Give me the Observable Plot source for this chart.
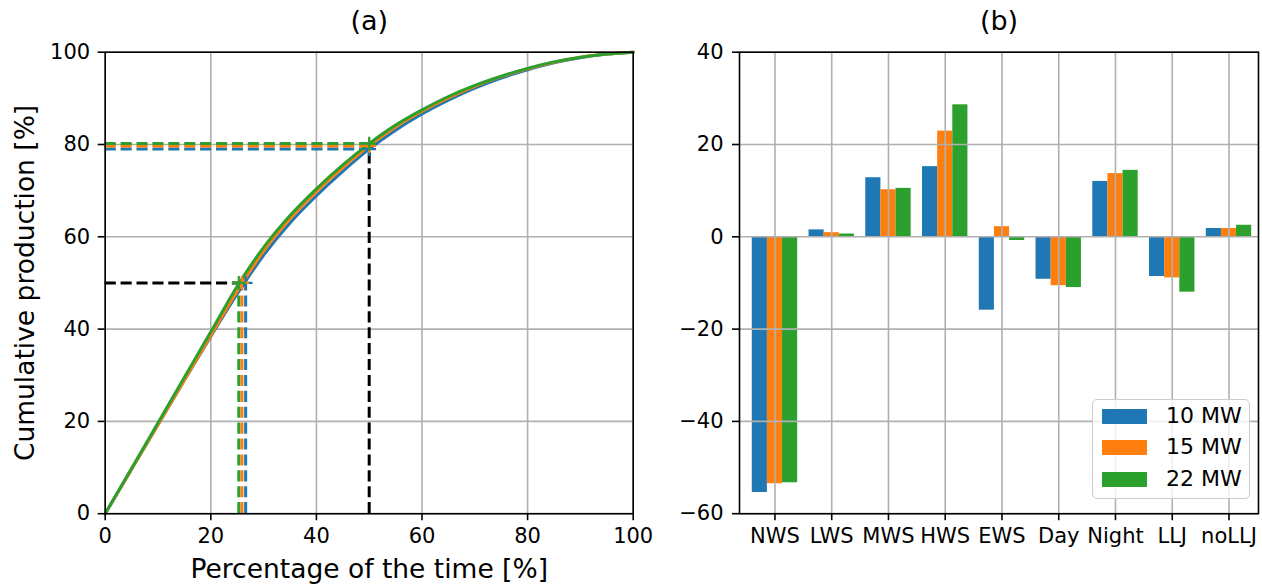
<!DOCTYPE html>
<html>
<head>
<meta charset="utf-8">
<script src="https://cdn.jsdelivr.net/npm/d3@7"></script>
<script src="https://cdn.jsdelivr.net/npm/@observablehq/plot@0.6"></script>
<style>
  html, body { margin: 0; padding: 0; background: white; }
  #wrap { position: relative; width: 1262px; height: 584px; overflow: hidden; font-family: "DejaVu Sans", sans-serif; }
  #wrap svg { position: absolute; top: 0; }
  #legend { position: absolute; left: 1092px; top: 399px; width: 158px; height: 100px;
    border: 1.5px solid #cccccc; border-radius: 5px; background: rgba(255,255,255,0.8); box-sizing: border-box; }
  .row { position: absolute; left: 9px; height: 16px; }
  .sw { position: absolute; left: 0; top: 0; width: 45px; height: 15px; }
  .lb { position: absolute; left: 64px; top: -6px; font-size: 22px; white-space: nowrap; color: black; line-height: 26px; }
</style>
</head>
<body>
<div id="wrap"></div>
<script>
// ---------- data ----------
const seriesNames = ["10 MW", "15 MW", "22 MW"];
const seriesColors = ["#1f77b4", "#ff7f0e", "#2ca02c"];

// panel (a): cumulative production curves
const timePct = [0, 5, 10, 15, 20, 25, 30, 35, 40, 45, 50, 55, 60, 65, 70, 75, 80, 85, 90, 95, 100];
const cum10 = [0, 9.65, 19.3, 28.9, 38.4, 47.6, 56.0, 63.0, 68.9, 74.2, 79.0, 83.1, 86.6, 89.6, 92.2, 94.4, 96.2, 97.7, 98.8, 99.6, 100];
const cum15 = [0, 9.65, 19.3, 28.95, 38.6, 48.2, 56.9, 63.9, 69.8, 75.0, 79.7, 83.8, 87.2, 90.1, 92.6, 94.7, 96.4, 97.8, 98.9, 99.6, 100];
const cum22 = [0, 9.85, 19.7, 29.55, 39.4, 49.3, 57.7, 64.6, 70.4, 75.6, 80.2, 84.2, 87.5, 90.4, 92.8, 94.8, 96.5, 97.9, 98.9, 99.6, 100];
const timeAtHalfProduction = [26.6, 25.9, 25.3];   // x where production = 50 %
const productionAtHalfTime = [79.0, 79.7, 80.2];   // y where time = 50 %
const halfProduction = 50;
const halfTime = 50;
const ticksA = [0, 20, 40, 60, 80, 100];

// panel (b): grouped bars
const categories = ["NWS", "LWS", "MWS", "HWS", "EWS", "Day", "Night", "LLJ", "noLLJ"];
const bars10 = [-55.4, 1.5, 12.8, 15.2, -15.9, -9.2, 12.0, -8.6, 1.8];
const bars15 = [-53.5, 0.9, 10.2, 22.9, 2.2, -10.6, 13.7, -8.9, 1.8];
const bars22 = [-53.3, 0.6, 10.5, 28.6, -0.8, -11.0, 14.4, -12.0, 2.5];
const ticksB = [-60, -40, -20, 0, 20, 40];

// ---------- build tables ----------
const curves = [cum10, cum15, cum22];
const curveRows = [];
curves.forEach((arr, j) => arr.forEach((v, i) => curveRows.push({series: seriesNames[j], t: timePct[i], p: v})));
const halfRows = seriesNames.map((s, j) => ({series: s, tHalf: timeAtHalfProduction[j], pHalf: productionAtHalfTime[j]}));
const markerRows = [];
halfRows.forEach(d => {
  markerRows.push({series: d.series, x: d.tHalf, y: halfProduction});
  markerRows.push({series: d.series, x: halfTime, y: d.pHalf});
});

const barSets = [bars10, bars15, bars22];
const groupWidth = 0.8;
const bw = groupWidth / barSets.length;
const barRows = [];
barSets.forEach((arr, j) => arr.forEach((v, i) => {
  const c = i + (j - (barSets.length - 1) / 2) * bw;
  barRows.push({series: seriesNames[j], x1: c - bw / 2, x2: c + bw / 2, v});
}));

const font = "DejaVu Sans";
const H = 584;
const mTop = 51.7, mBottom = H - 513.2;
const gridStyle = {stroke: "#b0b0b0", strokeOpacity: 1, strokeWidth: 1.6};
const dash = "11.1,4.8";

// ---------- panel (a) ----------
const WA = 660;
const plotA = Plot.plot({
  width: WA, height: H,
  marginLeft: 104.7, marginRight: WA - 632.7, marginTop: mTop, marginBottom: mBottom,
  style: {fontFamily: font, fontSize: "21px", color: "black", background: "white", overflow: "visible"},
  x: {domain: [0, 100]},
  y: {domain: [0, 100]},
  color: {domain: seriesNames, range: seriesColors},
  marks: [
    Plot.gridX(ticksA, gridStyle),
    Plot.gridY(ticksA, gridStyle),
    Plot.ruleY([halfProduction], {x1: 0, x2: d3.min(timeAtHalfProduction), stroke: "black", strokeWidth: 3, strokeDasharray: dash}),
    Plot.ruleX([halfTime], {y1: 0, y2: d3.max(productionAtHalfTime), stroke: "black", strokeWidth: 3, strokeDasharray: dash}),
    Plot.ruleY(halfRows, {y: "pHalf", x1: 0, x2: halfTime, stroke: "series", strokeWidth: 3, strokeDasharray: dash}),
    Plot.ruleX(halfRows, {x: "tHalf", y1: 0, y2: halfProduction, stroke: "series", strokeWidth: 3, strokeDasharray: dash}),
    Plot.line(curveRows, {x: "t", y: "p", z: "series", stroke: "series", strokeWidth: 3, curve: "monotone-x"}),
    Plot.dot(markerRows, {x: "x", y: "y", stroke: "series", symbol: "plus", r: 4.5, strokeWidth: 2.2}),
    Plot.frame({stroke: "black", strokeWidth: 1.6}),
    Plot.axisX({ticks: ticksA, tickSize: 7, tickPadding: 7, fontSize: 21, strokeWidth: 1.6, label: null}),
    Plot.axisY({ticks: ticksA, tickSize: 7, tickPadding: 8, fontSize: 21, strokeWidth: 1.6, label: null}),
    Plot.text(["Percentage of the time [%]"], {text: d => d, frameAnchor: "bottom", dy: 56, fontSize: 26.5, lineAnchor: "middle"}),
    Plot.text(["Cumulative production [%]"], {text: d => d, frameAnchor: "left", dx: -80, rotate: -90, textAnchor: "middle", fontSize: 26.5, lineAnchor: "middle"}),
    Plot.text(["(a)"], {text: d => d, frameAnchor: "top", dy: -31, fontSize: 27, lineAnchor: "middle"})
  ]
});
plotA.style.left = "0px";

// ---------- panel (b) ----------
const LB = 660, WB = 1262 - LB;
const plotB = Plot.plot({
  width: WB, height: H,
  marginLeft: 739 - LB, marginRight: 1262 - 1258, marginTop: mTop, marginBottom: mBottom,
  style: {fontFamily: font, fontSize: "21px", color: "black", background: "white", overflow: "visible"},
  x: {domain: [-0.625, categories.length - 1 + 0.52]},
  y: {domain: [ticksB[0], ticksB[ticksB.length - 1]]},
  color: {domain: seriesNames, range: seriesColors},
  marks: [
    Plot.rectY(barRows, {x1: "x1", x2: "x2", y: "v", fill: "series"}),
    Plot.gridX(d3.range(categories.length), gridStyle),
    Plot.gridY(ticksB, gridStyle),
    Plot.frame({stroke: "black", strokeWidth: 1.6}),
    Plot.axisX({ticks: d3.range(categories.length), tickFormat: i => categories[i], tickSize: 7, tickPadding: 7, fontSize: 21, strokeWidth: 1.6, label: null}),
    Plot.axisY({ticks: ticksB, tickSize: 7, tickPadding: 9, fontSize: 21, strokeWidth: 1.6, label: null}),
    Plot.text(["(b)"], {text: d => d, frameAnchor: "top", dy: -31, fontSize: 27, lineAnchor: "middle"})
  ]
});
plotB.style.left = LB + "px";

const wrap = document.getElementById("wrap");
wrap.appendChild(plotA);
wrap.appendChild(plotB);

// legend
const legend = document.createElement("div");
legend.id = "legend";
seriesNames.forEach((s, j) => {
  const row = document.createElement("div");
  row.className = "row";
  row.style.top = (9 + j * 31.3) + "px";
  const sw = document.createElement("div");
  sw.className = "sw";
  sw.style.background = seriesColors[j];
  const lb = document.createElement("div");
  lb.className = "lb";
  lb.textContent = s;
  row.appendChild(sw); row.appendChild(lb);
  legend.appendChild(row);
});
wrap.appendChild(legend);
</script>
</body>
</html>
